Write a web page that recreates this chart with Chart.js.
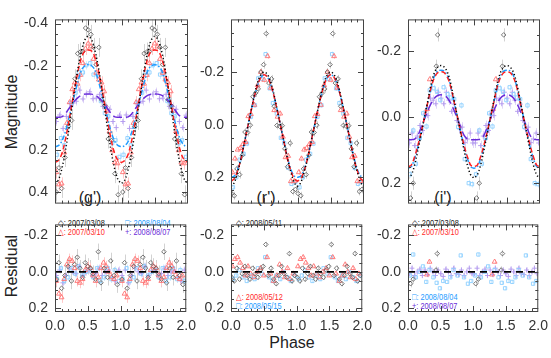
<!DOCTYPE html>
<html>
<head>
<meta charset="utf-8">
<script src="https://cdn.jsdelivr.net/npm/chart.js@4.4.0/dist/chart.umd.min.js"></script>
<style>
  body { margin: 0; background: #fff; width: 551px; height: 358px; overflow: hidden; position: relative;
         font-family: "Liberation Sans", Arial, sans-serif; color: #222; }
  canvas { position: absolute; }
  .t { position: absolute; white-space: nowrap; line-height: 1; transform: translate(-50%, -50%); }
  .lg { position: absolute; white-space: nowrap; font-size: 9px; line-height: 1;
        transform: scaleX(0.82); transform-origin: left center; }
</style>
</head>
<body>
<div class="t" style="left:12px;top:112px;font-size:16px;transform:translate(-50%,-50%) rotate(-90deg)">Magnitude</div>
<div class="t" style="left:12px;top:266px;font-size:16px;transform:translate(-50%,-50%) rotate(-90deg)">Residual</div>
<div class="t" style="left:292px;top:343px;font-size:16px">Phase</div>
<div class="t" style="left:90px;top:198px;font-size:16px">(g')</div>
<div class="t" style="left:266px;top:198px;font-size:16px">(r')</div>
<div class="t" style="left:443px;top:198px;font-size:16px">(i')</div>

<div class="lg" style="left:58px;top:219px;color:#222">◇: 2007/03/08</div>
<div class="lg" style="left:58px;top:228px;color:#ff2a2a">△: 2007/03/10</div>
<div class="lg" style="left:125px;top:219px;color:#1e9bff">□: 2008/08/04</div>
<div class="lg" style="left:125px;top:228px;color:#6a2bd9">+: 2008/08/07</div>
<div class="lg" style="left:236px;top:219px;color:#222">◇: 2008/05/11</div>
<div class="lg" style="left:236px;top:293px;color:#ff2a2a">△: 2008/05/12</div>
<div class="lg" style="left:236px;top:302px;color:#1e9bff">□: 2008/05/15</div>
<div class="lg" style="left:412px;top:219px;color:#222">◇: 2007/03/08</div>
<div class="lg" style="left:412px;top:228px;color:#ff2a2a">△: 2007/03/10</div>
<div class="lg" style="left:412px;top:293px;color:#1e9bff">□: 2008/08/04</div>
<div class="lg" style="left:412px;top:302px;color:#6a2bd9">+: 2008/08/07</div>

<script>
// ---- data, phase 0-1 (plotted twice, 0-2) ----
const modelPhase = [0,0.05,0.1,0.15,0.2,0.25,0.3,0.35,0.4,0.45,0.5,0.55,0.6,0.65,0.7,0.75,0.8,0.85,0.9,0.95,1];

// g'
const gBlackModel  = [0.36,0.343,0.293,0.216,0.118,0.01,-0.098,-0.196,-0.273,-0.323,-0.34,-0.323,-0.273,-0.196,-0.098,0.01,0.118,0.216,0.293,0.343,0.36];
const gRedModel    = [0.26,0.25,0.22,0.16,0.08,-0.01,-0.1,-0.18,-0.24,-0.27,-0.275,-0.27,-0.24,-0.18,-0.1,-0.01,0.08,0.16,0.22,0.25,0.26];
const gBlueModel   = [0.185,0.18,0.16,0.12,0.06,-0.005,-0.07,-0.13,-0.18,-0.2,-0.205,-0.2,-0.18,-0.13,-0.07,-0.005,0.06,0.12,0.16,0.18,0.185];
const gPurpleModel = [0.045,0.045,0.043,0.03,0.008,-0.015,-0.035,-0.05,-0.06,-0.065,-0.066,-0.065,-0.06,-0.05,-0.035,-0.015,0.008,0.03,0.043,0.045,0.045];

const gBlackPh  = [0.02,0.06,0.1,0.15,0.2,0.25,0.3,0.34,0.38,0.42,0.46,0.5,0.54,0.58,0.62,0.66,0.7,0.75,0.8,0.85,0.9,0.95];
const gBlackMag = [0.40,0.285,0.383,0.236,0.088,0.06,-0.138,-0.258,-0.265,-0.267,-0.379,-0.37,-0.349,-0.287,-0.205,-0.287,-0.038,-0.01,0.148,0.156,0.313,0.413];
const gBlackRes = [0.04,-0.05,0.09,0.02,-0.03,0.05,-0.04,-0.08,-0.02,0.03,-0.05,-0.03,-0.02,0.01,0.04,-0.11,0.06,-0.02,0.03,-0.06,0.02,0.07];

const gRedPh  = [0.02,0.06,0.1,0.14,0.18,0.22,0.26,0.3,0.34,0.38,0.42,0.46,0.5,0.54,0.58,0.62,0.66,0.7,0.74,0.78,0.82,0.86,0.9,0.94];
const gRedMag = [0.306,0.364,0.36,0.212,0.072,-0.026,-0.088,-0.12,-0.114,-0.156,-0.212,-0.281,-0.305,-0.291,-0.232,-0.166,-0.134,-0.12,-0.078,0.014,0.112,0.202,0.26,0.264];
const gRedRes = [0.05,0.12,0.14,0.04,-0.04,-0.07,-0.06,-0.02,0.05,0.06,0.04,-0.01,-0.03,-0.02,0.02,0.05,0.03,-0.02,-0.05,-0.03,0.0,0.03,0.04,0.02];

const gBluePh  = [0.03,0.09,0.14,0.2,0.25,0.31,0.36,0.42,0.47,0.53,0.58,0.64,0.69,0.75,0.8,0.86,0.91,0.97];
const gBlueMag = [0.223,0.144,0.178,0.09,-0.025,-0.072,-0.17,-0.168,-0.202,-0.212,-0.158,-0.16,-0.032,0.025,0.04,0.168,0.154,0.233];
const gBlueRes = [0.04,-0.02,0.05,0.03,-0.02,0.01,-0.03,0.02,0.0,-0.01,0.03,-0.02,0.05,0.03,-0.02,0.04,-0.01,0.05];

const gPurplePh  = [0.02,0.07,0.12,0.17,0.22,0.27,0.32,0.37,0.42,0.47,0.52,0.57,0.62,0.67,0.72,0.77,0.82,0.87,0.92,0.97];
const gPurpleMag = [0.065,0.034,0.098,0.041,-0.021,-0.023,-0.031,-0.084,-0.042,-0.065,-0.076,-0.043,-0.046,-0.064,-0.007,-0.006,0.007,0.065,0.094,0.035];
const gPurpleRes = [0.02,-0.01,0.06,0.02,-0.02,0.0,0.01,-0.03,0.02,0.0,-0.01,0.02,0.01,-0.02,0.02,0.0,-0.01,0.03,0.05,-0.01];

// r'
const rBlackModel = [0.235,0.22,0.18,0.13,0.07,0.01,-0.05,-0.11,-0.16,-0.19,-0.2,-0.19,-0.16,-0.11,-0.05,0.01,0.07,0.13,0.18,0.22,0.235];
const rRedModel   = [0.215,0.205,0.175,0.13,0.07,0.01,-0.05,-0.105,-0.15,-0.18,-0.19,-0.18,-0.15,-0.105,-0.05,0.01,0.07,0.13,0.175,0.205,0.215];
const rBlueModel  = [0.2,0.195,0.17,0.125,0.07,0.01,-0.05,-0.105,-0.15,-0.18,-0.19,-0.18,-0.15,-0.105,-0.05,0.01,0.07,0.125,0.17,0.195,0.2];

const rBlackPh  = [0.01,0.05,0.09,0.13,0.17,0.21,0.25,0.29,0.33,0.37,0.41,0.45,0.49,0.53,0.57,0.61,0.65,0.69,0.73,0.77,0.81,0.85,0.89,0.93,0.97];
const rBlackMag = [0.262,0.27,0.168,0.19,0.116,0.028,0.03,0.002,-0.106,-0.12,-0.136,-0.2,-0.228,-0.346,-0.158,-0.174,-0.07,0.003,0.006,0.004,0.092,0.16,0.07,0.254,0.246];
const rBlackRes = [0.03,0.05,-0.02,0.04,0.01,-0.03,0.02,0.04,-0.02,0.01,0.03,-0.01,-0.03,-0.15,0.02,-0.02,0.04,0.065,0.02,-0.03,0.01,0.03,-0.1,0.05,0.02];

const rRedPh  = [0.02,0.06,0.1,0.14,0.18,0.22,0.26,0.3,0.35,0.4,0.45,0.5,0.55,0.6,0.65,0.7,0.74,0.78,0.82,0.86,0.9,0.95];
const rRedMag = [0.181,0.129,0.095,0.089,0.074,0.066,-0.032,-0.04,-0.075,-0.15,-0.2,-0.17,-0.26,-0.14,-0.055,-0.03,-0.042,0.046,0.124,0.119,0.215,0.215];
const rRedRes = [-0.03,-0.07,-0.08,-0.05,-0.02,0.02,-0.03,0.01,0.03,0.0,-0.02,0.02,-0.08,0.01,0.05,0.02,-0.04,0.0,0.03,-0.02,0.04,0.01];

const rBluePh  = [0.03,0.08,0.13,0.19,0.24,0.3,0.36,0.41,0.47,0.52,0.58,0.63,0.69,0.75,0.8,0.86,0.91,0.97];
const rBlueMag = [0.238,0.2,0.133,0.111,0.072,-0.03,-0.074,-0.176,-0.174,-0.268,-0.138,-0.082,-0.042,0.05,0.07,0.164,0.225,0.217];
const rBlueRes = [0.04,0.02,-0.01,0.03,0.05,0.02,0.04,-0.02,0.01,-0.08,0.03,0.05,0.02,0.04,0.0,0.03,0.05,0.02];

// i'
const iBlackModel  = [0.185,0.175,0.145,0.1,0.05,0.0,-0.05,-0.1,-0.135,-0.152,-0.157,-0.152,-0.135,-0.1,-0.05,0.0,0.05,0.1,0.145,0.175,0.185];
const iRedModel    = [0.15,0.145,0.12,0.085,0.045,0.0,-0.045,-0.09,-0.12,-0.135,-0.138,-0.135,-0.12,-0.09,-0.045,0.0,0.045,0.085,0.12,0.145,0.15];
const iBlueModel   = [0.155,0.15,0.125,0.09,0.045,0.0,-0.045,-0.09,-0.125,-0.14,-0.143,-0.14,-0.125,-0.09,-0.045,0.0,0.045,0.09,0.125,0.15,0.155];
const iPurpleModel = [0.068,0.068,0.066,0.055,0.03,0.005,-0.02,-0.042,-0.058,-0.066,-0.068,-0.066,-0.058,-0.042,-0.02,0.005,0.03,0.055,0.066,0.068,0.068];

const iBlackPh  = [0.04,0.08,0.43,0.45];
const iBlackMag = [0.245,0.2,-0.155,-0.25];
const iBlackRes = [0.065,0.04,-0.01,-0.1];

const iRedPh  = [0.29,0.33];
const iRedMag = [-0.025,-0.115];
const iRedRes = [0.015,-0.055];

const iBluePh  = [0.03,0.08,0.12,0.18,0.23,0.28,0.33,0.39,0.44,0.49,0.54,0.6,0.65,0.7,0.76,0.81,0.86,0.92,0.97];
const iBlueMag = [0.173,0.04,0.141,0.063,-0.012,0.028,-0.082,-0.088,-0.077,-0.052,-0.091,-0.07,-0.06,-0.055,0.029,-0.036,0.127,0.2,0.203];
const iBlueRes = [0.02,-0.095,0.03,0.0,-0.03,0.055,-0.01,0.03,0.06,0.09,0.05,0.055,0.03,-0.01,0.02,-0.09,0.03,0.065,0.05];

const iPurplePh  = [0.02,0.06,0.1,0.14,0.18,0.22,0.26,0.3,0.34,0.38,0.42,0.46,0.5,0.54,0.58,0.62,0.66,0.7,0.74,0.78,0.82,0.86,0.9,0.94,0.98];
const iPurpleMag = [0.078,0.048,0.086,0.057,0.025,0.04,-0.01,-0.005,-0.058,-0.052,-0.041,-0.076,-0.058,-0.041,-0.076,-0.052,-0.018,-0.04,0.01,0.035,0.03,0.077,0.066,0.048,0.078];
const iPurpleRes = [0.01,-0.02,0.02,0.0,-0.015,0.02,-0.01,0.015,-0.02,0.0,0.02,-0.01,0.01,0.025,-0.015,0.0,0.02,-0.02,0.01,0.015,-0.01,0.02,0.0,-0.02,0.01];

// one-sigma error per night
const gErr = { black: 0.045, red: 0.03, blue: 0.02, purple: 0.02 };
const rErr = { black: 0.015, red: 0.01, blue: 0.01 };
const iErr = { black: 0.02, red: 0.01, blue: 0.01, purple: 0.015 };

const xTicks = [0, 0.5, 1, 1.5, 2];
const resTicks = [-0.2, 0, 0.2];

// ---- styles ----
const ST = {
  black:  { line: "#000000", dash: [1.2, 2.4], pt: "#666666", bar: "#d2d2d2", shape: "rectRot", r: 2.3 },
  red:    { line: "#ff2020", dash: [5, 3],     pt: "#ff7070", bar: "#ffc8c8", shape: "triangle", r: 2.8 },
  blue:   { line: "#1e9bff", dash: [5, 2, 1.5, 2], pt: "#8ccfff", bar: "#d2ecff", shape: "rect", r: 2.3 },
  purple: { line: "#6a2bd9", dash: [9, 4],     pt: "#b197ee", bar: "#e0d6f7", shape: "cross", r: 2.5 }
};

Chart.defaults.font.family = '"Liberation Sans", Arial, sans-serif';
Chart.defaults.color = "#333";

function fold(ph, vals) {
  const pts = [];
  for (let k = 0; k < 2; k++) ph.forEach((p, i) => pts.push({ x: p + k, y: vals[i] }));
  return pts;
}

function curve(vals, key) {
  const s = ST[key];
  return { data: fold(modelPhase, vals), showLine: true, borderColor: s.line, borderDash: s.dash,
           borderWidth: 1.5, pointRadius: 0, tension: 0.35, fill: false };
}

function points(ph, vals, key, err) {
  const s = ST[key];
  return { data: fold(ph, vals), showLine: false, pointStyle: s.shape, pointRadius: s.r,
           borderColor: s.pt, backgroundColor: "rgba(0,0,0,0)", pointBorderWidth: 0.9,
           errVal: err, errColor: s.bar };
}

const errorBars = {
  id: "errorBars",
  beforeDatasetsDraw(chart) {
    const { ctx, chartArea: a } = chart;
    const ys = chart.scales.y;
    ctx.save();
    ctx.beginPath();
    ctx.rect(a.left, a.top, a.right - a.left, a.bottom - a.top);
    ctx.clip();
    chart.data.datasets.forEach((ds, i) => {
      if (!ds.errVal) return;
      ctx.strokeStyle = ds.errColor;
      ctx.lineWidth = 1;
      chart.getDatasetMeta(i).data.forEach((el, j) => {
        const v = ds.data[j].y;
        ctx.beginPath();
        ctx.moveTo(Math.round(el.x) + 0.5, ys.getPixelForValue(v - ds.errVal));
        ctx.lineTo(Math.round(el.x) + 0.5, ys.getPixelForValue(v + ds.errVal));
        ctx.stroke();
      });
    });
    ctx.restore();
  }
};

const frame = {
  id: "frame",
  afterDatasetsDraw(chart, args, opts) {
    const { ctx, chartArea: a, scales: { x, y } } = chart;
    ctx.save();
    if (opts.zero) {
      const py = y.getPixelForValue(0);
      ctx.strokeStyle = "#000";
      ctx.lineWidth = 1.8;
      ctx.setLineDash([7, 5]);
      ctx.beginPath();
      ctx.moveTo(a.left, py);
      ctx.lineTo(a.right, py);
      ctx.stroke();
      ctx.setLineDash([]);
    }
    ctx.strokeStyle = "#444";
    ctx.lineWidth = 1;
    ctx.strokeRect(a.left + 0.5, a.top + 0.5, a.right - a.left - 1, a.bottom - a.top - 1);
    ctx.beginPath();
    for (let i = 1; i < 20; i++) {
      const px = Math.round(x.getPixelForValue(i / 10)) + 0.5;
      const len = i % 5 === 0 ? 6 : 3;
      ctx.moveTo(px, a.top); ctx.lineTo(px, a.top + len);
      ctx.moveTo(px, a.bottom); ctx.lineTo(px, a.bottom - len);
    }
    const lo = Math.min(y.min, y.max), hi = Math.max(y.min, y.max);
    for (let k = Math.ceil(lo / 0.05); k * 0.05 <= hi; k++) {
      const py = Math.round(y.getPixelForValue(k * 0.05)) + 0.5;
      if (py <= a.top + 1 || py >= a.bottom - 1) continue;
      const len = k % 4 === 0 ? 6 : 3;
      ctx.moveTo(a.left, py); ctx.lineTo(a.left + len, py);
      ctx.moveTo(a.right, py); ctx.lineTo(a.right - len, py);
    }
    ctx.stroke();
    ctx.restore();
  }
};

const PANEL_X = [[55, 188], [231, 364], [408, 540]];

function makeChart(col, upper, datasets, yMin, yMax, yTicks) {
  const [L, R] = PANEL_X[col];
  const cv = document.createElement("canvas");
  const w = R - L + 50 + 14;
  const h = upper ? 205 + 6 + 4 : 97 + 6 + 32;
  cv.width = w; cv.height = h;
  cv.style.left = (L - 50) + "px";
  cv.style.top = (upper ? 4 : 209) + "px";
  cv.style.width = w + "px"; cv.style.height = h + "px";
  document.body.appendChild(cv);
  return new Chart(cv, {
    type: "scatter",
    data: { datasets },
    options: {
      responsive: false, animation: false, devicePixelRatio: 1,
      layout: { padding: { top: 6, right: 14, bottom: upper ? 4 : 0, left: 0 } },
      plugins: { legend: { display: false }, tooltip: { enabled: false }, frame: { zero: !upper } },
      scales: {
        x: {
          type: "linear", min: 0, max: 2, display: !upper,
          grid: { display: false, drawTicks: false }, border: { display: false },
          afterBuildTicks: s => { s.ticks = xTicks.map(v => ({ value: v })); },
          afterFit: s => { s.height = upper ? 0 : 32; },
          ticks: { autoSkip: false, maxRotation: 0, padding: 6, color: "#333",
                   font: { size: 14 }, callback: v => Number(v).toFixed(1) }
        },
        y: {
          type: "linear", min: yMin, max: yMax, reverse: true,
          grid: { display: false, drawTicks: false }, border: { display: false },
          afterBuildTicks: s => { s.ticks = yTicks.map(v => ({ value: v })); },
          afterFit: s => { s.width = 50; },
          ticks: { padding: 7, color: "#333", font: { size: 14 },
                   callback: v => Number(v).toFixed(1) }
        }
      }
    },
    plugins: [errorBars, frame]
  });
}

// g'
makeChart(0, true, [
  curve(gBlackModel, "black"), curve(gRedModel, "red"), curve(gBlueModel, "blue"), curve(gPurpleModel, "purple"),
  points(gBlackPh, gBlackMag, "black", gErr.black), points(gRedPh, gRedMag, "red", gErr.red),
  points(gBluePh, gBlueMag, "blue", gErr.blue), points(gPurplePh, gPurpleMag, "purple", gErr.purple)
], -0.42, 0.455, [-0.4, -0.2, 0, 0.2, 0.4]);
makeChart(0, false, [
  points(gBlackPh, gBlackRes, "black", gErr.black), points(gRedPh, gRedRes, "red", gErr.red),
  points(gBluePh, gBlueRes, "blue", gErr.blue), points(gPurplePh, gPurpleRes, "purple", gErr.purple)
], -0.26, 0.22, resTicks);

// r'
makeChart(1, true, [
  curve(rBlackModel, "black"), curve(rRedModel, "red"), curve(rBlueModel, "blue"),
  points(rBlackPh, rBlackMag, "black", rErr.black), points(rRedPh, rRedMag, "red", rErr.red),
  points(rBluePh, rBlueMag, "blue", rErr.blue)
], -0.40, 0.30, [-0.2, 0, 0.2]);
makeChart(1, false, [
  points(rBlackPh, rBlackRes, "black", rErr.black), points(rRedPh, rRedRes, "red", rErr.red),
  points(rBluePh, rBlueRes, "blue", rErr.blue)
], -0.26, 0.22, resTicks);

// i'
makeChart(2, true, [
  curve(iBlackModel, "black"), curve(iRedModel, "red"), curve(iBlueModel, "blue"), curve(iPurpleModel, "purple"),
  points(iBlackPh, iBlackMag, "black", iErr.black), points(iRedPh, iRedMag, "red", iErr.red),
  points(iBluePh, iBlueMag, "blue", iErr.blue), points(iPurplePh, iPurpleMag, "purple", iErr.purple)
], -0.297, 0.262, [-0.2, 0, 0.2]);
makeChart(2, false, [
  points(iBlackPh, iBlackRes, "black", iErr.black), points(iRedPh, iRedRes, "red", iErr.red),
  points(iBluePh, iBlueRes, "blue", iErr.blue), points(iPurplePh, iPurpleRes, "purple", iErr.purple)
], -0.26, 0.22, resTicks);
</script>
</body>
</html>
